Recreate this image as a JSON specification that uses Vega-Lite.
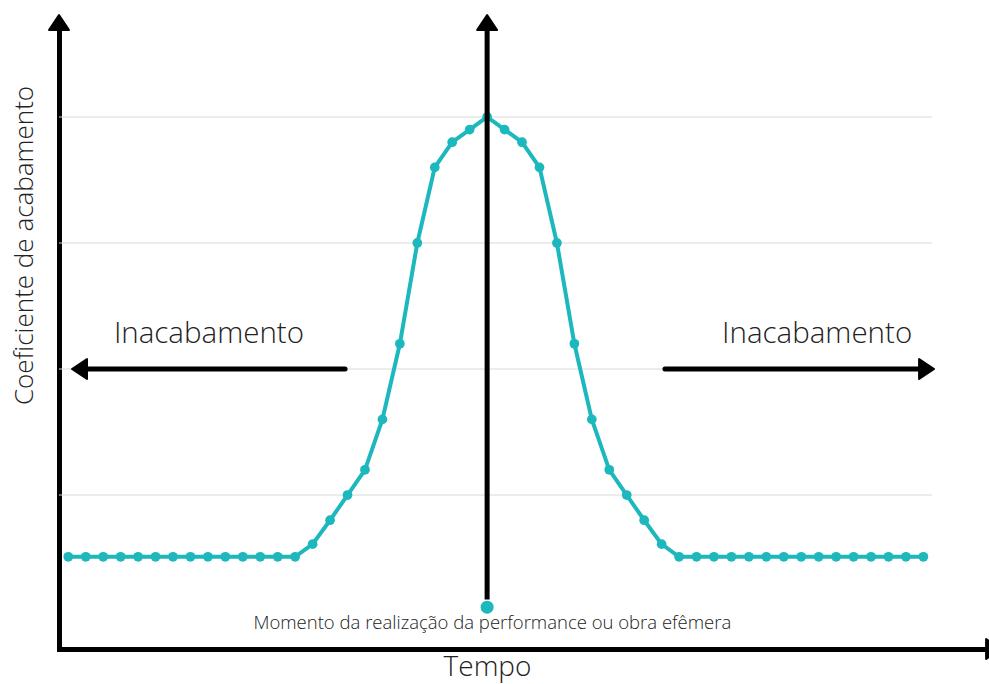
{
  "$schema": "https://vega.github.io/schema/vega-lite/v6.json",
  "autosize": "none",
  "width": 930,
  "height": 624,
  "padding": {"left": 59, "top": 25, "right": 0, "bottom": 35},
  "background": "white",
  "config": {
    "view": {"stroke": null},
    "font": "Open Sans",
    "axis": {"domain": true, "domainColor": "#000", "domainWidth": 5, "domainCap": "square", "ticks": false, "labels": false, "grid": false,
             "titleFont": "Open Sans", "titleFontWeight": 300, "titleColor": "#222"},
    "axisX": {"titleFontSize": 28, "titlePadding": 4, "titleX": 428, "titleAlign": "center"},
    "axisY": {"titleFontSize": 26, "titlePadding": 22, "titleY": 220, "titleAlign": "center"}
  },
  "datasets": {
    "curve": [
      {"t": 0, "v": 0.51}, {"t": 1, "v": 0.51}, {"t": 2, "v": 0.51}, {"t": 3, "v": 0.51},
      {"t": 4, "v": 0.51}, {"t": 5, "v": 0.51}, {"t": 6, "v": 0.51}, {"t": 7, "v": 0.51},
      {"t": 8, "v": 0.51}, {"t": 9, "v": 0.51}, {"t": 10, "v": 0.51}, {"t": 11, "v": 0.51},
      {"t": 12, "v": 0.51}, {"t": 13, "v": 0.51}, {"t": 14, "v": 0.61}, {"t": 15, "v": 0.8},
      {"t": 16, "v": 1.0}, {"t": 17, "v": 1.2}, {"t": 18, "v": 1.6}, {"t": 19, "v": 2.2},
      {"t": 20, "v": 3.0}, {"t": 21, "v": 3.6}, {"t": 22, "v": 3.8}, {"t": 23, "v": 3.9},
      {"t": 24, "v": 4.0}, {"t": 25, "v": 3.9}, {"t": 26, "v": 3.8}, {"t": 27, "v": 3.6},
      {"t": 28, "v": 3.0}, {"t": 29, "v": 2.2}, {"t": 30, "v": 1.6}, {"t": 31, "v": 1.2},
      {"t": 32, "v": 1.0}, {"t": 33, "v": 0.8}, {"t": 34, "v": 0.61}, {"t": 35, "v": 0.51},
      {"t": 36, "v": 0.51}, {"t": 37, "v": 0.51}, {"t": 38, "v": 0.51}, {"t": 39, "v": 0.51},
      {"t": 40, "v": 0.51}, {"t": 41, "v": 0.51}, {"t": 42, "v": 0.51}, {"t": 43, "v": 0.51},
      {"t": 44, "v": 0.51}, {"t": 45, "v": 0.51}, {"t": 46, "v": 0.51}, {"t": 47, "v": 0.51},
      {"t": 48, "v": 0.51}, {"t": 49, "v": 0.51}
    ],
    "grid": [{"v": 1}, {"v": 2}, {"v": 3}, {"v": 4}],
    "arrows": [
      {"t": 0.9, "t2": 15.86, "v": 2},
      {"t": 34.19, "t2": 49.0, "v": 2}
    ],
    "heads": [
      {"t": -0.533, "v": 4.73, "dir": "up"},
      {"t": 24, "v": 4.73, "dir": "up"},
      {"t": 0.785, "v": 2, "dir": "left"},
      {"t": 49.04, "v": 2, "dir": "right"},
      {"t": 52.88, "v": -0.222, "dir": "right"}
    ],
    "labels": [
      {"t": 8.06, "v": 2.206, "label": "Inacabamento"},
      {"t": 42.91, "v": 2.206, "label": "Inacabamento"}
    ],
    "moment": [{"t": 24, "v": 0.11, "label": "Momento da realização da performance ou obra efêmera", "lt": 24.3, "lv": -0.063}]
  },
  "layer": [
    {
      "data": {"name": "grid"},
      "mark": {"type": "rule", "color": "#d9d9d9", "strokeWidth": 1},
      "encoding": {
        "x": {"datum": -0.533, "type": "quantitative", "scale": {"domain": [-0.533, 52.76], "nice": false, "zero": false}, "axis": {"title": "Tempo"}},
        "x2": {"datum": 49.5},
        "y": {"field": "v", "type": "quantitative", "scale": {"domain": [-0.222, 4.73], "nice": false, "zero": false}, "axis": {"title": "Coeficiente de acabamento"}}
      }
    },
    {
      "data": {"name": "curve"},
      "mark": {"type": "line", "color": "#1cb8bd", "strokeWidth": 4, "point": {"filled": true, "size": 95, "color": "#1cb8bd", "opacity": 1}},
      "encoding": {
        "x": {"field": "t", "type": "quantitative", "scale": {"domain": [-0.533, 52.76], "nice": false, "zero": false}, "axis": {"title": "Tempo"}},
        "y": {"field": "v", "type": "quantitative", "scale": {"domain": [-0.222, 4.73], "nice": false, "zero": false}, "axis": {"title": "Coeficiente de acabamento"}}
      }
    },
    {
      "data": {"name": "moment"},
      "mark": {"type": "rule", "color": "#000", "strokeWidth": 5},
      "encoding": {
        "x": {"field": "t", "type": "quantitative", "axis": {"title": "Tempo"}},
        "y": {"datum": 0.17, "type": "quantitative", "axis": {"title": "Coeficiente de acabamento"}},
        "y2": {"datum": 4.73}
      }
    },
    {
      "data": {"name": "moment"},
      "mark": {"type": "point", "filled": true, "size": 170, "color": "#1cb8bd", "opacity": 1},
      "encoding": {
        "x": {"field": "t", "type": "quantitative", "axis": {"title": "Tempo"}},
        "y": {"field": "v", "type": "quantitative", "axis": {"title": "Coeficiente de acabamento"}}
      }
    },
    {
      "data": {"name": "arrows"},
      "mark": {"type": "rule", "color": "#000", "strokeWidth": 5, "strokeCap": "round"},
      "encoding": {
        "x": {"field": "t", "type": "quantitative", "axis": {"title": "Tempo"}},
        "x2": {"field": "t2"},
        "y": {"field": "v", "type": "quantitative", "axis": {"title": "Coeficiente de acabamento"}}
      }
    },
    {
      "data": {"name": "heads"},
      "mark": {"type": "point", "filled": true, "size": 400, "color": "#000", "stroke": "#000", "strokeWidth": 2, "strokeJoin": "round", "opacity": 1, "clip": false},
      "encoding": {
        "x": {"field": "t", "type": "quantitative", "axis": {"title": "Tempo"}},
        "y": {"field": "v", "type": "quantitative", "axis": {"title": "Coeficiente de acabamento"}},
        "shape": {
          "field": "dir", "type": "nominal", "legend": null,
          "scale": {"domain": ["up", "left", "right"], "range": ["M0,-1L1,0.5L-1,0.5Z", "M-1,0L0.5,-1L0.5,1Z", "M1,0L-0.5,-1L-0.5,1Z"]}
        }
      }
    },
    {
      "data": {"name": "labels"},
      "mark": {"type": "text", "font": "Open Sans", "fontSize": 29.5, "fontWeight": 300, "color": "#222", "align": "center", "baseline": "alphabetic"},
      "encoding": {
        "x": {"field": "t", "type": "quantitative", "axis": {"title": "Tempo"}},
        "y": {"field": "v", "type": "quantitative", "axis": {"title": "Coeficiente de acabamento"}},
        "text": {"field": "label"}
      }
    },
    {
      "data": {"name": "moment"},
      "mark": {"type": "text", "font": "Open Sans", "fontSize": 18.5, "fontWeight": 300, "color": "#222", "align": "center", "baseline": "alphabetic"},
      "encoding": {
        "x": {"field": "lt", "type": "quantitative", "axis": {"title": "Tempo"}},
        "y": {"field": "lv", "type": "quantitative", "axis": {"title": "Coeficiente de acabamento"}},
        "text": {"field": "label"}
      }
    }
  ]
}
